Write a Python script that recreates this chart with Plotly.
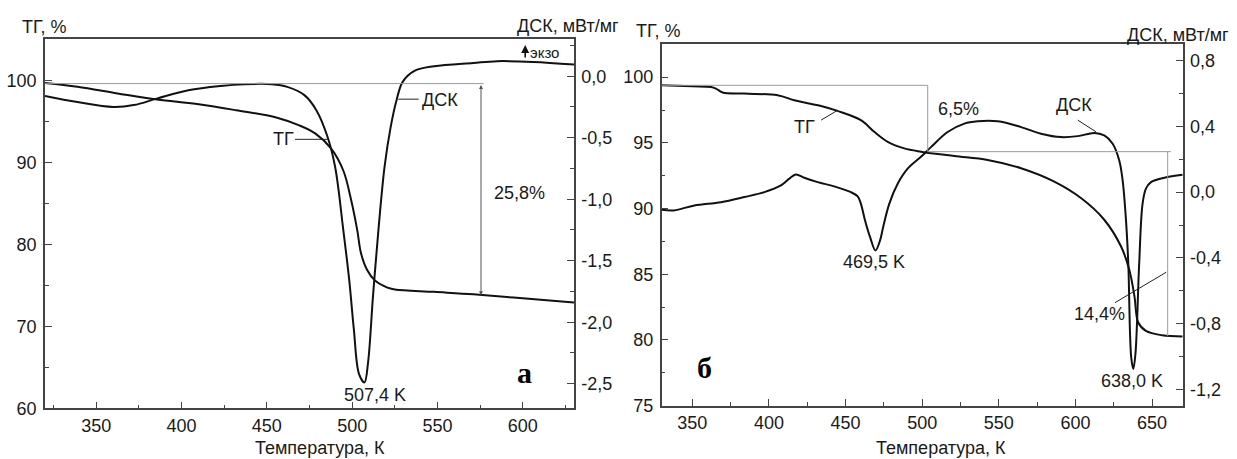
import plotly.graph_objects as go

# ---------------- Panel "а" data ----------------
T_a_tg = [320, 339, 362.5, 385.7, 409, 432, 455, 469, 478.5, 487.6, 494.8, 499.4,
          503, 505.2, 508.7, 513.3, 520.3, 525, 548, 571, 594.6, 630]
TG_a = [99.67, 99.2, 98.4, 97.65, 97.1, 96.35, 95.5, 94.5, 93.5, 91.7, 89.0, 85.4,
        81.7, 78.9, 76.9, 75.6, 74.75, 74.5, 74.2, 73.9, 73.5, 72.9]

T_a_dsc = [320, 339, 360, 372, 386, 404, 423, 437, 453, 462, 472, 479, 485.5, 490,
           494.8, 498.3, 501, 504, 507.2, 509.3, 512.2, 515.4, 519, 522.6, 526,
           529.6, 536.5, 548, 571, 585, 606, 630]
DSC_a = [-0.16, -0.21, -0.25, -0.235, -0.18, -0.114, -0.079, -0.065, -0.065, -0.087,
         -0.154, -0.276, -0.49, -0.736, -1.25, -1.66, -2.06, -2.42, -2.49, -2.33,
         -1.79, -1.25, -0.736, -0.41, -0.195, -0.046, 0.043, 0.081, 0.108, 0.122,
         0.116, 0.095]

# ---------------- Panel "б" data ----------------
T_b_tg = [330, 350, 362.2, 365.4, 369.8, 383.9, 405.6, 416.5, 423, 434, 444.8, 460,
          468.7, 477.5, 488.3, 499.2, 520.9, 542.7, 564.5, 586.2, 603.6, 618.8,
          629.7, 635.1, 638.5, 641, 646, 656.5, 670]
TG_b = [99.38, 99.3, 99.25, 99.13, 98.83, 98.75, 98.62, 98.24, 98.07, 97.81, 97.43,
        96.73, 95.84, 95.08, 94.58, 94.33, 94.0, 93.7, 93.07, 92.05, 90.8, 89.15,
        87.13, 85.36, 83.34, 81.33, 80.69, 80.36, 80.27]

T_b_dsc = [330, 338, 351.3, 368.7, 383.9, 397, 407.8, 413.3, 417.6, 423, 431.8, 442.6,
           453.5, 457.9, 460, 462.7, 466, 469.5, 472.5, 474.5, 478.5, 484, 490.5,
           499.2, 505.7, 516.6, 527.5, 536.2, 549.3, 564.5, 577.5, 590.6, 601.5,
           612.3, 618.8, 624.3, 628.6, 630.8, 633, 634.5, 636.4, 637.8, 639.2,
           641.6, 643.8, 646, 649.3, 658, 670]
DSC_b = [-0.107, -0.111, -0.081, -0.061, -0.03, 0.0, 0.041, 0.082, 0.108, 0.088,
         0.061, 0.035, 0.0, -0.026, -0.071, -0.172, -0.274, -0.355, -0.294, -0.213,
         -0.071, 0.051, 0.143, 0.215, 0.274, 0.366, 0.417, 0.431, 0.431, 0.396,
         0.356, 0.335, 0.341, 0.36, 0.345, 0.295, 0.193, 0.071, -0.172, -0.436,
         -1.006, -1.076, -0.98, -0.436, -0.071, 0.021, 0.061, 0.088, 0.106]

# ---------------- ticks ----------------
x_ticks_a = [350, 400, 450, 500, 550, 600]
x_ticks_b = [350, 400, 450, 500, 550, 600, 650]
tg_ticks_a = [60, 70, 80, 90, 100]
tg_ticks_b = [75, 80, 85, 90, 95, 100]
dsc_ticks_a = [-2.5, -2.0, -1.5, -1.0, -0.5, 0.0]
dsc_labels_a = ["-2,5", "-2,0", "-1,5", "-1,0", "-0,5", "0,0"]
dsc_ticks_b = [-1.2, -0.8, -0.4, 0.0, 0.4, 0.8]
dsc_labels_b = ["-1,2", "-0,8", "-0,4", "0,0", "0,4", "0,8"]

W, H = 1237, 459
FONT = "Liberation Sans, Arial, sans-serif"
AXC = "#444444"
TXT = "#1a1a1a"


def px(x):
    return x / W


def py(y):
    return 1 - y / H


line_style = dict(color="#111111", width=2)

fig = go.Figure()
fig.add_trace(go.Scatter(x=T_a_tg, y=TG_a, mode="lines", line=line_style,
                         line_shape="spline", xaxis="x", yaxis="y", showlegend=False))
fig.add_trace(go.Scatter(x=T_a_dsc, y=DSC_a, mode="lines", line=line_style,
                         line_shape="spline", xaxis="x", yaxis="y2", showlegend=False))
fig.add_trace(go.Scatter(x=T_b_tg, y=TG_b, mode="lines", line=line_style,
                         line_shape="spline", xaxis="x2", yaxis="y3", showlegend=False))
fig.add_trace(go.Scatter(x=T_b_dsc, y=DSC_b, mode="lines", line=line_style,
                         line_shape="spline", xaxis="x2", yaxis="y4", showlegend=False))

tickfont = dict(family=FONT, size=18, color=TXT)
common = dict(showline=True, linecolor=AXC, linewidth=1.5, ticks="inside",
              ticklen=7, tickwidth=1.2, tickcolor=AXC, showgrid=False,
              zeroline=False, tickfont=tickfont, automargin=False, fixedrange=True)

fig.update_layout(
    width=W, height=H, margin=dict(l=0, r=0, t=0, b=0),
    paper_bgcolor="white", plot_bgcolor="white",
    xaxis=dict(domain=[px(45), px(574)], range=[320, 630], anchor="y", mirror=True,
               tickmode="array", tickvals=x_ticks_a,
               minor=dict(tickmode="linear", tick0=325, dtick=50, ticks="inside",
                          ticklen=4, tickcolor=AXC),
               ticklabelstandoff=0, **common),
    yaxis=dict(domain=[py(408.3), py(39.3)], range=[60, 105], anchor="x",
               tickmode="array", tickvals=tg_ticks_a,
               minor=dict(tickmode="linear", tick0=65, dtick=10, ticks="inside",
                          ticklen=4, tickcolor=AXC),
               ticklabelstandoff=3, **common),
    yaxis2=dict(range=[-2.7, 0.3], anchor="x", overlaying="y", side="right",
                tickmode="array", tickvals=dsc_ticks_a, ticktext=dsc_labels_a,
                minor=dict(tickmode="linear", tick0=-2.25, dtick=0.5, ticks="inside",
                           ticklen=4, tickcolor=AXC),
                ticklabelstandoff=2, **common),
    xaxis2=dict(domain=[px(661.7), px(1182.7)], range=[330, 670], anchor="y3",
                mirror=True, tickmode="array", tickvals=x_ticks_b,
                minor=dict(tickmode="linear", tick0=375, dtick=50, ticks="inside",
                           ticklen=4, tickcolor=AXC),
                ticklabelstandoff=0, **common),
    yaxis3=dict(domain=[py(405.7), py(44.3)], range=[75, 102.5], anchor="x2",
                tickmode="array", tickvals=tg_ticks_b,
                minor=dict(tickmode="linear", tick0=77.5, dtick=5, ticks="inside",
                           ticklen=4, tickcolor=AXC),
                ticklabelstandoff=3, **common),
    yaxis4=dict(range=[-1.3, 0.9], anchor="x2", overlaying="y3", side="right",
                tickmode="array", tickvals=dsc_ticks_b, ticktext=dsc_labels_b,
                minor=dict(tickmode="linear", tick0=-1.0, dtick=0.4, ticks="inside",
                           ticklen=4, tickcolor=AXC),
                ticklabelstandoff=2, **common),
)

GRAY = "#9a9a9a"
shapes = [
    # panel а
    dict(type="line", xref="x", yref="y", x0=320, x1=577, y0=99.6, y1=99.6,
         line=dict(color=GRAY, width=1)),
    dict(type="line", xref="x", yref="y", x0=466.5, x1=485.5, y0=92.8, y1=92.8,
         line=dict(color="#222", width=1)),
    dict(type="line", xref="x", yref="y", x0=527, x1=539, y0=97.7, y1=97.7,
         line=dict(color="#222", width=1)),
    # panel б
    dict(type="line", xref="x2", yref="y3", x0=330, x1=503.6, y0=99.38, y1=99.38,
         line=dict(color=GRAY, width=1)),
    dict(type="line", xref="x2", yref="y3", x0=503.6, x1=503.6, y0=99.38, y1=94.33,
         line=dict(color=GRAY, width=1)),
    dict(type="line", xref="x2", yref="y3", x0=503.6, x1=662.3, y0=94.33, y1=94.33,
         line=dict(color=GRAY, width=1)),
    dict(type="line", xref="x2", yref="y3", x0=660.2, x1=660.2, y0=94.33, y1=80.3,
         line=dict(color=GRAY, width=1)),
    dict(type="line", xref="x2", yref="y3", x0=434, x1=444.8, y0=96.73, y1=97.48,
         line=dict(color="#222", width=1)),
    dict(type="line", xref="x2", yref="y3", x0=601.5, x1=613.4, y0=96.73, y1=95.84,
         line=dict(color="#222", width=1)),
    dict(type="line", xref="x2", yref="y3", x0=625.8, x1=659.3, y0=82.84, y1=85.16,
         line=dict(color="#222", width=1)),
]
fig.update_layout(shapes=shapes)

tf = dict(family=FONT, size=18, color=TXT)
SERIF = dict(family="Liberation Serif, Times New Roman, serif", size=30, color="#000")
ann = []


def text(xref, yref, x, y, s, xanchor="center", font=tf):
    ann.append(dict(xref=xref, yref=yref, x=x, y=y, text=s, showarrow=False,
                    xanchor=xanchor, yanchor="middle", font=font))


# axis titles (paper)
text("paper", "paper", px(20), py(27), "ТГ, %", "left")
text("paper", "paper", px(621), py(26), "ДСК, мВт/мг", "right")
text("paper", "paper", px(634), py(31), "ТГ, %", "left")
text("paper", "paper", px(1231), py(35), "ДСК, мВт/мг", "right")
text("paper", "paper", px(320), py(448), "Температура, К")
text("paper", "paper", px(941), py(448), "Температура, К")

# panel а labels
text("x", "y", 460, 92.9, "ТГ")
text("x", "y", 540, 97.6, "ДСК", "left")
text("x", "y", 598, 86.3, "25,8%")
text("x", "y", 513.3, 61.6, "507,4 K")
text("x", "y", 603, 103.4, "экзо", "left", dict(family=FONT, size=15, color=TXT))
text("x", "y", 600.8, 64.4, "<b>а</b>", "center", SERIF)
# panel б labels
text("x2", "y3", 423, 96.2, "ТГ")
text("x2", "y3", 599.2, 97.86, "ДСК")
text("x2", "y3", 523.7, 97.6, "6,5%")
text("x2", "y3", 615.5, 81.95, "14,4%")
text("x2", "y3", 468.7, 85.9, "469,5 K")
text("x2", "y3", 637.0, 76.9, "638,0 K")
text("x2", "y3", 358, 77.9, "<b>б</b>", "center", SERIF)

# double arrow 25,8 %
ann.append(dict(xref="x", yref="y", axref="x", ayref="y", x=575.5, y=73.8,
                ax=575.5, ay=99.6, text="", showarrow=True, arrowhead=2,
                arrowside="end+start", arrowsize=0.8, arrowwidth=1, arrowcolor="#555"))
# exo arrow
ann.append(dict(xref="x", yref="y", axref="x", ayref="y", x=601.4, y=104.3,
                ax=601.4, ay=102.6, text="", showarrow=True, arrowhead=2,
                arrowsize=1, arrowwidth=1.6, arrowcolor="#111"))

fig.update_layout(annotations=ann)
fig.write_html("out.html", config={"displayModeBar": False},
               post_script="document.body.style.margin='0';document.body.style.overflow='hidden';")
